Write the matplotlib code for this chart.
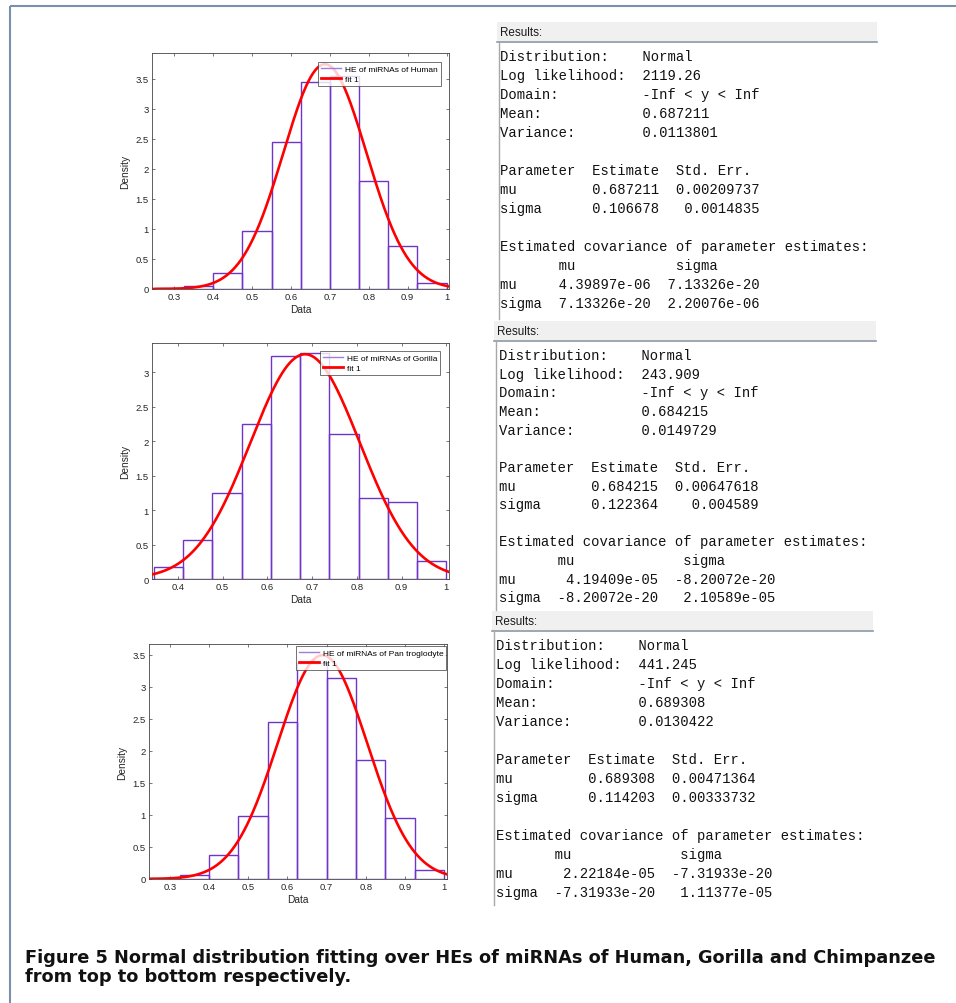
import numpy as np
import matplotlib
matplotlib.use('Agg')
import matplotlib.pyplot as plt
from matplotlib.lines import Line2D
from matplotlib.patches import Rectangle
from matplotlib.ticker import FuncFormatter, MultipleLocator

# histogram bin edges and densities of HE values
human_edges = [0.25, 0.325, 0.4, 0.475, 0.55, 0.625, 0.7, 0.775, 0.85, 0.925, 1.0]
human_density = [0.02, 0.05, 0.27, 0.96, 2.45, 3.44, 3.54, 1.79, 0.72, 0.094]

gorilla_edges = [0.346, 0.4114, 0.4768, 0.5422, 0.6076, 0.673, 0.7384, 0.8038, 0.8692, 0.9346, 1.0]
gorilla_density = [0.18, 0.563, 1.252, 2.243, 3.233, 3.277, 2.11, 1.17, 1.12, 0.262]

pan_edges = [0.25, 0.325, 0.4, 0.475, 0.55, 0.625, 0.7, 0.775, 0.85, 0.925, 1.0]
pan_density = [0.016, 0.07, 0.37, 0.98, 2.45, 3.37, 3.13, 1.86, 0.95, 0.145]

# fitted normal parameters
human_fit = (0.687211, 0.106678)
gorilla_fit = (0.684215, 0.122364)
pan_fit = (0.689308, 0.114203)

species = ['Human', 'Gorilla', 'Pan troglodyte']

# text of the fit result windows
human_results = [
    "Distribution:    Normal",
    "Log likelihood:  2119.26",
    "Domain:          -Inf < y < Inf",
    "Mean:            0.687211",
    "Variance:        0.0113801",
    "",
    "Parameter  Estimate  Std. Err.",
    "mu         0.687211  0.00209737",
    "sigma      0.106678   0.0014835",
    "",
    "Estimated covariance of parameter estimates:",
    "       mu            sigma",
    "mu     4.39897e-06  7.13326e-20",
    "sigma  7.13326e-20  2.20076e-06",
]
gorilla_results = [
    "Distribution:    Normal",
    "Log likelihood:  243.909",
    "Domain:          -Inf < y < Inf",
    "Mean:            0.684215",
    "Variance:        0.0149729",
    "",
    "Parameter  Estimate  Std. Err.",
    "mu         0.684215  0.00647618",
    "sigma      0.122364    0.004589",
    "",
    "Estimated covariance of parameter estimates:",
    "       mu             sigma",
    "mu      4.19409e-05  -8.20072e-20",
    "sigma  -8.20072e-20   2.10589e-05",
]
pan_results = [
    "Distribution:    Normal",
    "Log likelihood:  441.245",
    "Domain:          -Inf < y < Inf",
    "Mean:            0.689308",
    "Variance:        0.0130422",
    "",
    "Parameter  Estimate  Std. Err.",
    "mu         0.689308  0.00471364",
    "sigma      0.114203  0.00333732",
    "",
    "Estimated covariance of parameter estimates:",
    "       mu             sigma",
    "mu      2.22184e-05  -7.31933e-20",
    "sigma  -7.31933e-20   1.11377e-05",
]

caption1 = "Figure 5 Normal distribution fitting over HEs of miRNAs of Human, Gorilla and Chimpanzee"
caption2 = "from top to bottom respectively."

W, H = 956, 1004
BAR_COLOR = '#7035c8'
LEG_BAR_COLOR = '#a07ee0'
FIT_COLOR = '#ff0000'

plt.rcParams['font.family'] = ['Liberation Sans', 'DejaVu Sans']

fig = plt.figure(figsize=(W / 100, H / 100), dpi=100)


def px_axes(x0, y0, x1, y1):
    return fig.add_axes([x0 / W, 1 - y1 / H, (x1 - x0) / W, (y1 - y0) / H])


def draw_hist(ax, edges, density, fit, name, xlim, xticks, leg_anchor):
    edges = np.asarray(edges)
    ax.bar(edges[:-1], density, width=np.diff(edges), align='edge', fill=False,
           edgecolor=BAR_COLOR, linewidth=1.0, zorder=2)
    mu, sigma = fit
    xs = np.linspace(xlim[0], xlim[1], 400)
    pdf = np.exp(-0.5 * ((xs - mu) / sigma) ** 2) / (sigma * np.sqrt(2 * np.pi))
    ax.plot(xs, pdf, color=FIT_COLOR, linewidth=1.9, zorder=3)
    peak = 1 / (sigma * np.sqrt(2 * np.pi))
    ax.set_xlim(*xlim)
    ax.set_ylim(0, peak * 1.05)
    ax.set_xticks(xticks)
    ax.yaxis.set_major_locator(MultipleLocator(0.5))
    fmt = FuncFormatter(lambda v, p: '%g' % round(v, 2))
    ax.xaxis.set_major_formatter(fmt)
    ax.yaxis.set_major_formatter(fmt)
    ax.tick_params(direction='in', length=2.5, width=0.5, top=True, right=True,
                   labelsize=6.8, labelcolor='#262626', color='#444444', pad=2.5)
    for s in ax.spines.values():
        s.set_linewidth(0.6)
        s.set_color('#444444')
    ax.set_xlabel('Data', fontsize=7.3, color='#262626', labelpad=2)
    ax.set_ylabel('Density', fontsize=7.3, color='#262626', labelpad=4)
    handles = [Line2D([], [], color=LEG_BAR_COLOR, linewidth=1.0),
               Line2D([], [], color=FIT_COLOR, linewidth=2.0)]
    leg = ax.legend(handles, ['HE of miRNAs of ' + name, 'fit 1'], loc='upper right',
                    bbox_to_anchor=leg_anchor, fontsize=6.0, frameon=True, fancybox=False,
                    borderpad=0.35, labelspacing=0.3, handlelength=2.4, handletextpad=0.5,
                    borderaxespad=0.0)
    leg.get_frame().set_edgecolor('#333333')
    leg.get_frame().set_linewidth(0.6)
    leg.set_zorder(5)


ax1 = px_axes(152, 54, 449, 290)
draw_hist(ax1, human_edges, human_density, human_fit, species[0],
          (0.243, 1.006), np.arange(0.3, 1.01, 0.1), (0.973, 0.962))

ax2 = px_axes(152, 344, 449, 580)
draw_hist(ax2, gorilla_edges, gorilla_density, gorilla_fit, species[1],
          (0.342, 1.006), np.arange(0.4, 1.01, 0.1), (0.97, 0.967))

ax3 = px_axes(149, 645, 447, 880)
draw_hist(ax3, pan_edges, pan_density, pan_fit, species[2],
          (0.247, 1.007), np.arange(0.3, 1.01, 0.1), (0.998, 0.991))

# overlay in pixel units for result windows, frame and caption
bg = fig.add_axes([0, 0, 1, 1], zorder=-1)
bg.set_xlim(0, W)
bg.set_ylim(H, 0)
bg.axis('off')

bg.plot([10, 10], [7, H], color='#7a8fb0', linewidth=1.5, solid_capstyle='butt')
bg.plot([10, W], [7, 7], color='#7a8fb0', linewidth=1.5, solid_capstyle='butt')


def results_panel(x0, x1, y0, y_end, text_x, first_y, step, lines):
    bg.add_patch(Rectangle((x0, y0), x1 - x0, 19, facecolor='#f0f0f0', edgecolor='none'))
    bg.plot([x0, x1], [y0 + 19.5, y0 + 19.5], color='#8c98a6', linewidth=1.2)
    bg.plot([x0 + 2, x0 + 2], [y0 + 20, y_end], color='#a8a8a8', linewidth=1.0)
    bg.text(x0 + 3, y0 + 10, 'Results:', fontsize=8.4, color='#1a1a1a', va='center',
            ha='left', family=['Liberation Sans', 'DejaVu Sans'])
    for i, line in enumerate(lines):
        if line:
            bg.text(text_x, first_y + i * step, line, fontsize=10, va='center', ha='left',
                    family=['Liberation Mono', 'DejaVu Sans Mono'], color='#111111')


results_panel(497, 877, 23, 320, 500, 57, 19.0, human_results)
results_panel(494, 876, 322, 611, 499, 356, 18.65, gorilla_results)
results_panel(492, 873, 612, 906, 496, 646, 19.0, pan_results)

# caption, sized so the first line spans the full text width
cap_kw = dict(fontweight='bold', va='baseline', ha='left', color='#111111',
              family=['DejaVu Sans'])
t1 = bg.text(25, 963, caption1, fontsize=12.5, **cap_kw)
t2 = bg.text(25, 982, caption2, fontsize=12.5, **cap_kw)
renderer = fig.canvas.get_renderer()
size = 12.5
for _ in range(3):
    width = t1.get_window_extent(renderer).width
    size = size * 908 / width
    t1.set_fontsize(size)
t2.set_fontsize(size)

fig.savefig('out.png', dpi=100)
